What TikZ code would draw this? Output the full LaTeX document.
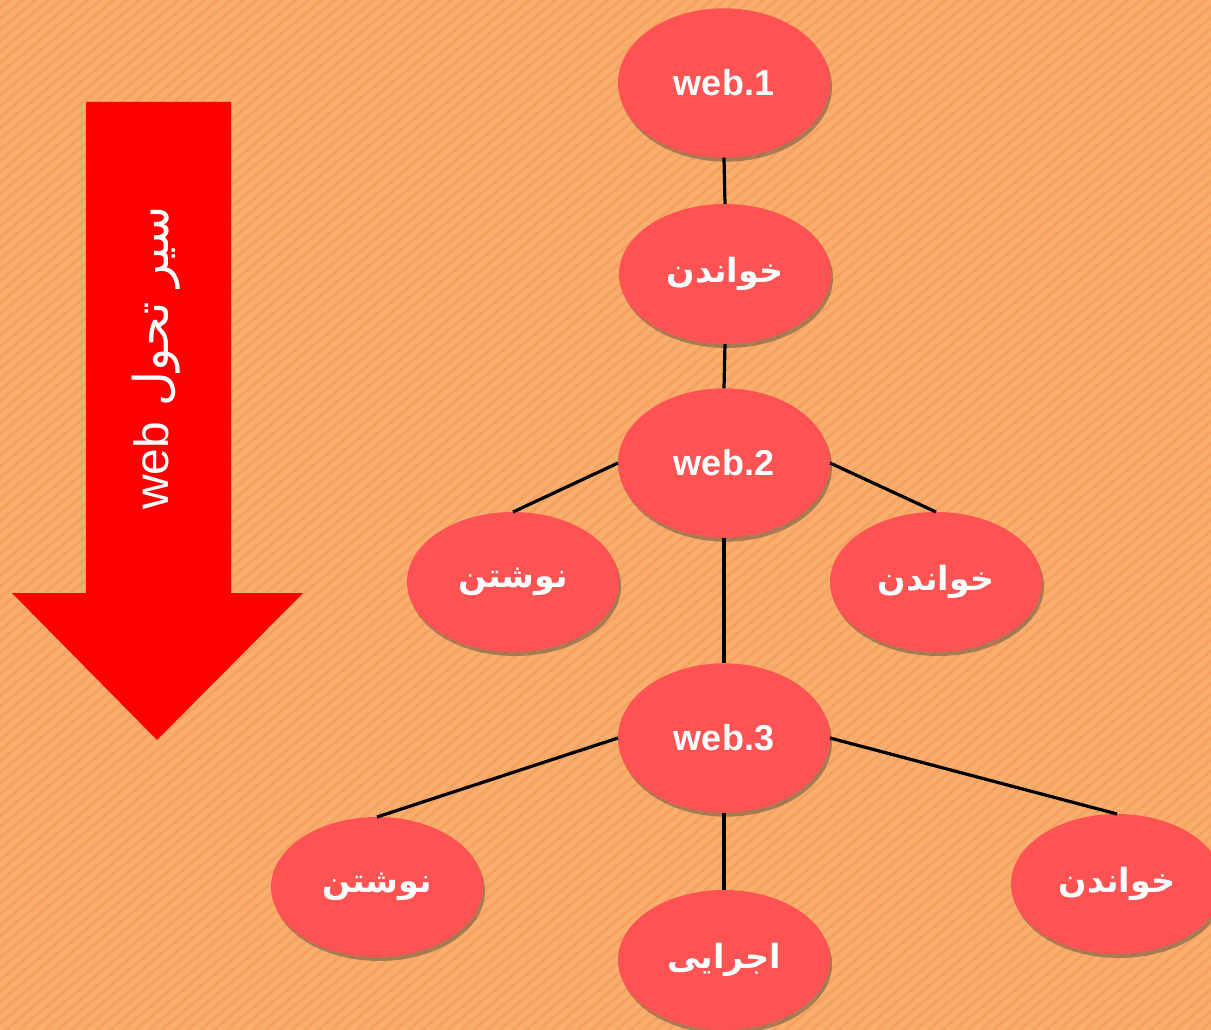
\documentclass[tikz,border=0pt]{standalone}
\usepackage{fontspec}
\setmainfont{Liberation Sans}
\newfontfamily\arabicfont[Script=Arabic]{DejaVu Sans}
\TeXXeTstate=1
\usetikzlibrary{shapes.geometric,shadows}
\definecolor{bgorange}{RGB}{246,161,94}
\definecolor{stripe}{RGB}{249,174,110}
\definecolor{nodered}{RGB}{255,82,82}
\definecolor{arrowred}{RGB}{255,0,0}
\tikzset{
  bubble/.style={ellipse, fill=nodered, inner sep=0pt, outer sep=0pt,
    minimum width=159pt, minimum height=105pt, text=white,
    drop shadow={shadow xshift=1.5pt, shadow yshift=-3pt, opacity=0.4, fill=black!80}},
  webbubble/.style={bubble, minimum height=112pt, font=\fontsize{27}{30}\selectfont\bfseries},
  farsi/.style={bubble, font=\arabicfont\fontsize{25}{30}\selectfont\bfseries},
  link/.style={draw=black, line width=2.4pt}
}
\begin{document}
\begin{tikzpicture}[x=0.75pt,y=-0.75pt]
\useasboundingbox (0,0) rectangle (1211,1030);
\fill[bgorange] (0,0) rectangle (1211,1030);
\begin{scope}
\clip (0,0) rectangle (1211,1030);
\foreach \i in {-1300,-1287,...,1250} {
  \draw[stripe, line width=4pt] (\i,1040) -- (\i+1250,-10);
}
\end{scope}
% arrow
\fill[arrowred] (86,102) -- (231,102) -- (231,593) -- (303,593) -- (157,740) -- (12,593) -- (86,593) -- cycle;
\node[rotate=90, text=white, inner sep=0pt] (title) at (156,358)
  {\fontsize{36}{40}\selectfont\arabicfont\beginR سیر تحول \beginL{\fontspec{Liberation Sans}web}\endL\endR};
% nodes
\node[webbubble] (w1) at (724,83) {web.1};
\node[farsi] (r1) at (725,274) {\beginR خواندن\endR};
\node[webbubble] (w2) at (724,463) {web.2};
\node[farsi] (n2) at (513,582) {\beginR نوشتن\endR};
\node[farsi] (r2) at (936,582) {\beginR خواندن\endR};
\node[webbubble] (w3) at (724,738) {web.3};
\node[farsi] (n3) at (377,887) {\beginR نوشتن\endR};
\node[farsi] (e3) at (724,960) {\beginR اجرایی\endR};
\node[farsi] (r3) at (1117,884) {\beginR خواندن\endR};
% links
\draw[link] (w1.south) -- (r1.north);
\draw[link] (r1.south) -- (w2.north);
\draw[link] (w2.west) -- (n2.north);
\draw[link] (w2.east) -- (r2.north);
\draw[link] (w2.south) -- (w3.north);
\draw[link] (w3.west) -- (n3.north);
\draw[link] (w3.east) -- (r3.north);
\draw[link] (w3.south) -- (e3.north);
\end{tikzpicture}
\end{document}
